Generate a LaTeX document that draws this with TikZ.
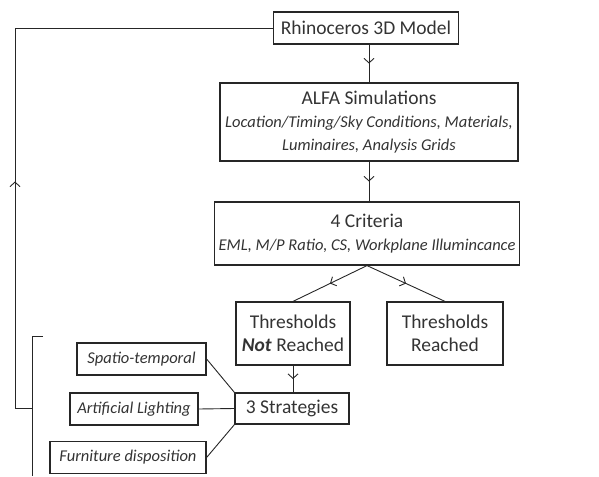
\documentclass[tikz,border=0pt]{standalone}
\usepackage{fontspec}
\setmainfont{Carlito}
\usetikzlibrary{arrows.meta,decorations.markings}
\tikzset{
  box/.style={draw=black!85, line width=1.2pt, inner sep=0pt, align=center, text=black!80, font=\fontsize{19.5}{23}\selectfont},
  smallbox/.style={box, minimum height=32pt, font=\fontsize{16.5}{20}\selectfont\itshape},
  link/.style={draw=black!85, line width=0.9pt},
  midarrow/.style={link, postaction={decorate}, decoration={markings, mark=at position #1 with {\arrow{Straight Barb[length=4.5pt,width=10pt,line width=0.9pt]}}}},
  midarrow/.default=0.5
}
\newcommand{\detail}[1]{{\fontsize{16.5}{23}\selectfont\itshape #1}}
\begin{document}
\begin{tikzpicture}[x=1pt,y=-1pt]
                \useasboundingbox (0,0) rectangle (599,476);
                % main chain
                \node[box, minimum width=185pt, minimum height=32pt] (rhino) at (366,28) {Rhinoceros 3D Model};
                \node[box, minimum width=298pt, minimum height=78pt] (alfa) at (369,122) {ALFA Simulations\\ \detail{Location/Timing/Sky Conditions, Materials,}\\ \detail{Luminaires, Analysis Grids}};
                \node[box, minimum width=305pt, minimum height=63pt] (crit) at (367,233.5) {4 Criteria\\ \detail{EML, M/P Ratio, CS, Workplane Illumincance}};
                \node[box, minimum width=114pt, minimum height=63pt] (notreached) at (293,333.5) {Thresholds\\ \textbf{\textit{Not}} Reached};
                \node[box, minimum width=116pt, minimum height=63pt] (reached) at (445,333.5) {Thresholds\\ Reached};
                \node[box, minimum width=114pt, minimum height=31pt] (strat) at (292,408.5) {3 Strategies};
                % strategies
                \node[smallbox, minimum width=129pt] (spatio) at (141.5,359) {Spatio-temporal};
                \node[smallbox, minimum width=128pt] (artif) at (134,409) {Artificial Lighting};
                \node[smallbox, minimum width=156pt] (furn) at (128,457.5) {Furniture disposition};
                \draw[midarrow] (alfa.north |- rhino.south) -- (alfa.north);
                \draw[midarrow] (alfa.south) -- (alfa.south |- crit.north);
                \draw[midarrow] (crit.south) -- (notreached.north);
                \draw[midarrow] (crit.south) -- (reached.north);
                \draw[midarrow] (notreached.south) -- (notreached.south |- strat.north);
                \draw[link] (spatio.east) -- (strat.north west);
                \draw[link] (artif.east) -- (strat.west);
                \draw[link] (furn.east) -- (strat.south west);
                % bracket and loop back
                \coordinate (brtick) at (43,336);
                \coordinate (brtop) at (32.5,336);
                \coordinate (brbot) at (32.5,476);
                \coordinate (loop) at (32.5,408);
                \draw[link] (brtick) -- (brtop) -- (brbot);
                \draw[midarrow=244pt] (loop) -- (15,408) -- (15,28) -- (rhino.west);
\end{tikzpicture}
\end{document}
